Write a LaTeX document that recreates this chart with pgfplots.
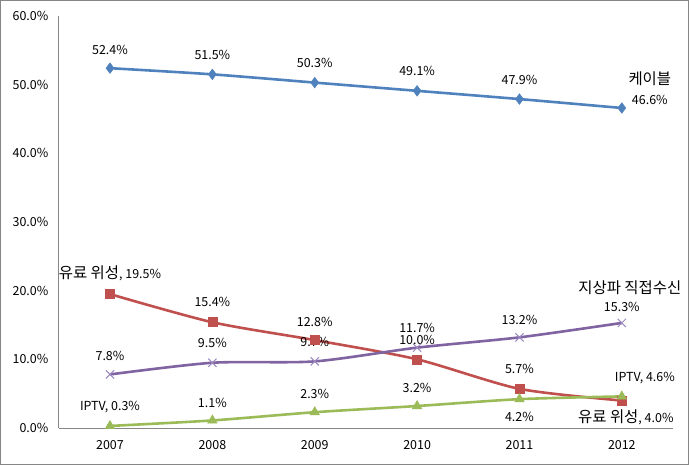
\documentclass[border=0pt]{standalone}
\usepackage{fontspec}
\setmainfont{Noto Sans CJK KR}
\usepackage{pgfplots}
\pgfplotsset{compat=1.18}
\definecolor{cblue}{HTML}{4F81BD}
\definecolor{cred}{HTML}{C0504D}
\definecolor{cgreen}{HTML}{9BBB59}
\definecolor{cpurple}{HTML}{8064A2}
\definecolor{cpurplel}{HTML}{9C8AC0}
\definecolor{axgray}{HTML}{868686}
\newcommand{\kr}[1]{{\fontsize{15.5}{17}\selectfont #1}}
\newcommand{\lab}[5]{\node[font=\fontsize{12.5}{14}\selectfont, inner sep=0pt] at (axis cs:#1,#2) [xshift=#3bp, yshift=#4bp] {#5};}
\begin{document}
\begin{tikzpicture}[x=1bp,y=1bp]
\draw[axgray, line width=1bp] (0.5,0.5) rectangle (688.5,464.5);
\begin{axis}[
  at={(58.8bp,37bp)}, anchor=south west,
  scale only axis, width=614.2bp, height=412bp,
  xmin=-0.5, xmax=5.5, ymin=0, ymax=60,
  axis x line=bottom, axis y line=left,
  axis line style={-, axgray, line width=0.8bp},
  xtick={0,...,5}, xticklabels={2007,2008,2009,2010,2011,2012},
  ytick={0,10,...,60}, yticklabels={0.0\%,10.0\%,20.0\%,30.0\%,40.0\%,50.0\%,60.0\%},
  major tick length=0pt,
  tick label style={font=\fontsize{12.5}{14}\selectfont},
  yticklabel style={xshift=-7bp},
  xticklabel style={yshift=-9bp},
  clip=false,
  every axis plot/.append style={line width=2.6bp, smooth, tension=0.45},
]
\addplot[cblue, mark=diamond*, mark size=5.3bp, mark options={solid, fill=cblue, line width=0.5bp}]
  coordinates {(0,52.4) (1,51.5) (2,50.3) (3,49.1) (4,47.9) (5,46.6)};
\addplot[cred, mark=square*, mark size=4.5bp, mark options={solid, fill=cred, line width=0.5bp}]
  coordinates {(0,19.5) (1,15.4) (2,12.8) (3,10.0) (4,5.7) (5,4.0)};
\addplot[cpurple, mark=x, mark size=5.8bp, mark options={solid, draw=cpurplel, line width=1bp}]
  coordinates {(0,7.8) (1,9.5) (2,9.7) (3,11.7) (4,13.2) (5,15.3)};
\addplot[cgreen, mark=triangle*, mark size=5.5bp, mark options={solid, fill=cgreen, line width=0.5bp}]
  coordinates {(0,0.3) (1,1.1) (2,2.3) (3,3.2) (4,4.2) (5,4.6)};
% cable labels
\lab{0}{52.4}{0}{18}{52.4\%}
\lab{1}{51.5}{0}{19}{51.5\%}
\lab{2}{50.3}{0}{20}{50.3\%}
\lab{3}{49.1}{0}{20}{49.1\%}
\lab{4}{47.9}{0}{19}{47.9\%}
\lab{5}{46.6}{28}{8}{46.6\%}
\lab{5}{46.6}{28}{29}{\kr{케이블}}
% satellite labels
\lab{0}{19.5}{0}{21}{\kr{유료 위성}, 19.5\%}
\lab{1}{15.4}{0}{20}{15.4\%}
\lab{2}{12.8}{0}{18}{12.8\%}
\lab{3}{10.0}{0}{19}{10.0\%}
\lab{4}{5.7}{0}{20}{5.7\%}
\lab{5}{4.0}{4}{-17}{\kr{유료 위성}, 4.0\%}
% terrestrial labels
\lab{0}{7.8}{0}{18}{7.8\%}
\lab{1}{9.5}{0}{20}{9.5\%}
\lab{2}{9.7}{0}{19}{9.7\%}
\lab{3}{11.7}{0}{20}{11.7\%}
\lab{4}{13.2}{0}{17}{13.2\%}
\lab{5}{15.3}{0}{16}{15.3\%}
\lab{5}{15.3}{8}{35}{\kr{지상파 직접수신}}
% IPTV labels
\lab{0}{0.3}{0}{19}{IPTV, 0.3\%}
\lab{1}{1.1}{0}{18}{1.1\%}
\lab{2}{2.3}{0}{18}{2.3\%}
\lab{3}{3.2}{0}{18}{3.2\%}
\lab{4}{4.2}{0}{-18}{4.2\%}
\lab{5}{4.6}{23}{18}{IPTV, 4.6\%}
\end{axis}
\end{tikzpicture}
\end{document}
